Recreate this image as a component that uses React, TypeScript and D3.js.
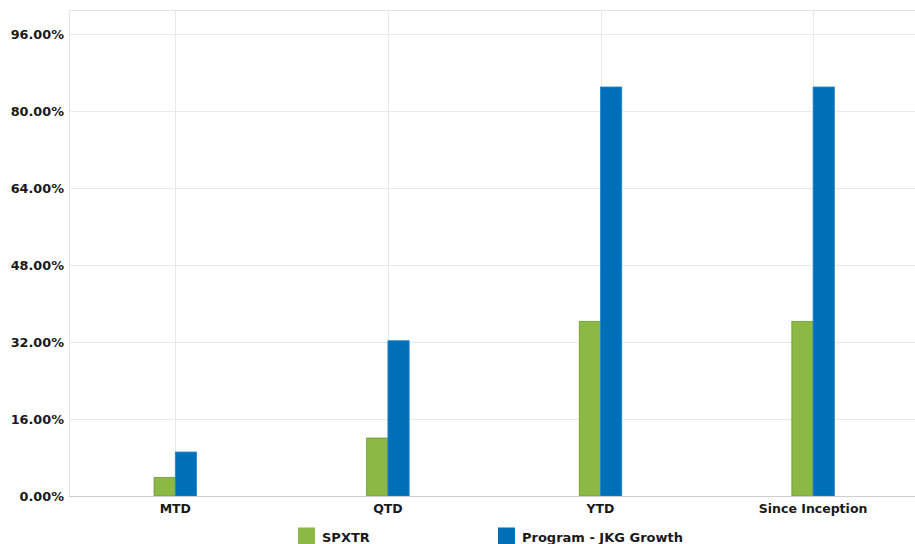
import React from "react";
import * as d3 from "d3";

const categories = ["MTD", "QTD", "YTD", "Since Inception"];
const seriesNames = ["SPXTR", "Program - JKG Growth"];
const spxtr = [3.88, 12.05, 36.3, 36.3];
const program = [9.14, 32.27, 85.0, 85.0];
const yTicks = [0, 16, 32, 48, 64, 80, 96];
const colors = ["#8cb844", "#006fba"];
const strokes = ["#6f9a30", "#2a86c8"];

const W = 915;
const H = 544;
const left = 69;
const top = 10;
const bottom = 496;
const right = 919.4;

export default function App() {
  const x = d3.scaleBand<string>().domain(categories).range([left, right]).padding(0);
  const y = d3.scaleLinear().domain([0, 101]).range([bottom, top]);
  const bw = x.bandwidth() * 0.1;
  const series = [spxtr, program];
  const font = "'DejaVu Sans', Verdana, sans-serif";
  return (
    <div style={{ position: "absolute", left: 0, top: 0 }}>
      <svg width={W} height={H} style={{ display: "block", background: "#fff" }}>
        {/* grid */}
        {yTicks.map((t) => (
          <line key={"g" + t} x1={left} x2={W} y1={y(t) + 0.5} y2={y(t) + 0.5} stroke="#e8e8e8" />
        ))}
        {categories.map((c) => (
          <line key={"v" + c} x1={Math.round(x(c)! + x.bandwidth() / 2) + 0.5} x2={Math.round(x(c)! + x.bandwidth() / 2) + 0.5} y1={top} y2={bottom} stroke="#e8e8e8" />
        ))}
        <line x1={left} x2={W} y1={top + 0.5} y2={top + 0.5} stroke="#e3e3e3" />
        <line x1={left + 0.5} x2={left + 0.5} y1={top} y2={bottom} stroke="#e3e3e3" />
        {/* bars */}
        {series.map((vals, si) =>
          categories.map((c, i) => {
            const cx = x(c)! + x.bandwidth() / 2;
            const bx = cx - bw + si * bw;
            return (
              <rect
                key={si + "-" + c}
                x={bx}
                y={y(vals[i])}
                width={bw}
                height={bottom - y(vals[i])}
                fill={colors[si]}
                stroke={strokes[si]}
                strokeWidth={0.8}
              />
            );
          })
        )}
        <line x1={left} x2={W} y1={bottom + 0.5} y2={bottom + 0.5} stroke="#cfcfcf" />
        {/* y labels */}
        {yTicks.map((t) => (
          <text key={"t" + t} x={64} y={y(t)} dy="0.36em" textAnchor="end" fontFamily={font} fontWeight="bold" fontSize={12.8} fill="#1a1a1a">
            {t.toFixed(2) + "%"}
          </text>
        ))}
        {/* x labels */}
        {categories.map((c) => (
          <text key={"x" + c} x={x(c)! + x.bandwidth() / 2} y={513} textAnchor="middle" fontFamily={font} fontWeight="bold" fontSize={12.5} fill="#1a1a1a">
            {c}
          </text>
        ))}
        {/* legend */}
        {seriesNames.map((n, i) => {
          const lx = [298, 498][i];
          return (
            <g key={n}>
              <rect x={lx} y={527.5} width={17} height={17} fill={colors[i]} />
              <text x={lx + 24} y={541.5} fontFamily={font} fontWeight="bold" fontSize={13} fill="#1a1a1a">
                {n}
              </text>
            </g>
          );
        })}
      </svg>
    </div>
  );
}
